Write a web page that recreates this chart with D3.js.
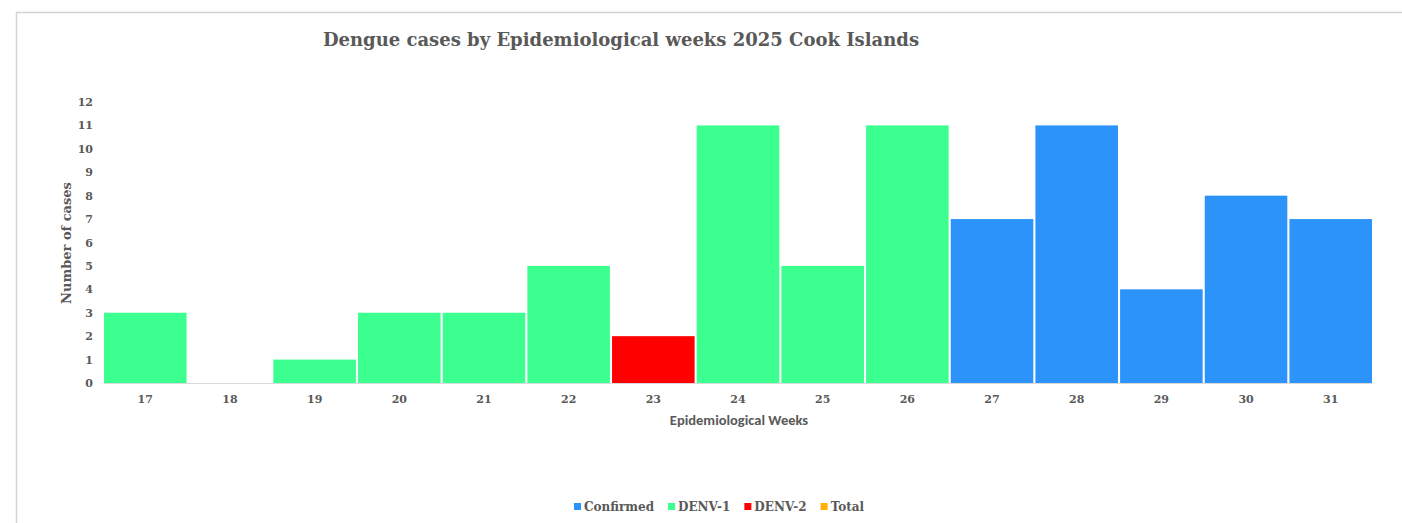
<!DOCTYPE html>
<html>
<head>
<meta charset="utf-8">
<script src="https://cdn.jsdelivr.net/npm/d3@7"></script>
<style>
  body { margin: 0; background: #fff; }
  svg { display: block; }
  .serif { font-family: Georgia, "DejaVu Serif", serif; font-weight: bold; fill: #595959; }
  .sans { font-family: Calibri, Carlito, "Open Sans", sans-serif; font-weight: bold; fill: #595959; }
</style>
</head>
<body>
<svg id="chart" width="1402" height="523"></svg>
<script>
// weeks and series
const weeks = ['17', '18', '19', '20', '21', '22', '23', '24', '25', '26', '27', '28', '29', '30', '31'];
const confirmed = [0, 0, 0, 0, 0, 0, 0, 0, 0, 0, 7, 11, 4, 8, 7];
const denv1 = [3, 0, 1, 3, 3, 5, 0, 11, 5, 11, 0, 0, 0, 0, 0];
const denv2 = [0, 0, 0, 0, 0, 0, 2, 0, 0, 0, 0, 0, 0, 0, 0];
const total = [0, 0, 0, 0, 0, 0, 0, 0, 0, 0, 0, 0, 0, 0, 0];
const y_ticks = [0, 1, 2, 3, 4, 5, 6, 7, 8, 9, 10, 11, 12];

const series_names = ['Confirmed', 'DENV-1', 'DENV-2', 'Total'];
const series_colors = ['#2B93F9', '#3BFF8E', '#FF0000', '#FFB000'];

const svg = d3.select('#chart');

// frame
svg.append('path')
    .attr('d', 'M16.5,523 V12.5 H1402')
    .attr('fill', 'none')
    .attr('stroke', '#d4d4d4')
    .attr('stroke-width', 1.5);

const plot_left = 104, plot_right = 1372, plot_top = 102, plot_bottom = 383;

const xScale = d3.scaleBand()
    .domain(weeks)
    .range([plot_left, plot_right])
    .paddingInner(0.025)
    .paddingOuter(0);

const yScale = d3.scaleLinear()
    .domain([0, 12])
    .range([plot_bottom, plot_top]);

const table = weeks.map((w, i) => ({
    week: w,
    'Confirmed': confirmed[i],
    'DENV-1': denv1[i],
    'DENV-2': denv2[i],
    'Total': total[i]
}));

const stacked = d3.stack().keys(series_names)(table);

svg.append('g')
    .selectAll('g')
    .data(stacked)
    .enter()
    .append('g')
    .attr('fill', (d, i) => series_colors[i])
    .selectAll('rect')
    .data((d) => d)
    .enter()
    .append('rect')
    .attr('x', (d) => xScale(d.data.week))
    .attr('y', (d) => yScale(d[1]))
    .attr('width', xScale.bandwidth())
    .attr('height', (d) => yScale(d[0]) - yScale(d[1]));

// x axis
const xAxis = svg.append('g')
    .attr('transform', `translate(0, ${plot_bottom})`)
    .call(d3.axisBottom(xScale).tickSize(0).tickPadding(12));
xAxis.select('.domain').attr('stroke', '#d9d9d9').attr('d', `M${plot_left},0.5H${plot_right}`);
xAxis.selectAll('text')
    .attr('class', 'serif')
    .style('font-size', '11px');

// y axis
const yAxis = svg.append('g')
    .attr('transform', `translate(${plot_left}, 0)`)
    .call(d3.axisLeft(yScale).tickValues(y_ticks).tickSize(0).tickPadding(11));
yAxis.select('.domain').remove();
yAxis.selectAll('text')
    .attr('class', 'serif')
    .style('font-size', '11px');

// title
svg.append('text')
    .attr('class', 'serif')
    .attr('x', 621)
    .attr('y', 46)
    .attr('text-anchor', 'middle')
    .style('font-size', '18px')
    .text('Dengue cases by Epidemiological weeks 2025 Cook Islands');

// axis titles
svg.append('text')
    .attr('class', 'sans')
    .attr('x', 739)
    .attr('y', 425)
    .attr('text-anchor', 'middle')
    .style('font-size', '14.5px')
    .text('Epidemiological Weeks');

svg.append('text')
    .attr('class', 'serif')
    .attr('transform', 'translate(71, 243) rotate(-90)')
    .attr('text-anchor', 'middle')
    .style('font-size', '13px')
    .text('Number of cases');

// legend
const legend = svg.append('g').attr('transform', 'translate(574, 511)');
let lx = 0;
series_names.forEach((name, i) => {
    const g = legend.append('g').attr('transform', `translate(${lx}, 0)`);
    g.append('rect')
        .attr('x', 0).attr('y', -8)
        .attr('width', 7).attr('height', 7)
        .attr('fill', series_colors[i]);
    const t = g.append('text')
        .attr('class', 'serif')
        .attr('x', 10).attr('y', 0)
        .style('font-size', '12px')
        .text(name);
    lx += 10 + t.node().getComputedTextLength() + 14;
});
</script>
</body>
</html>
